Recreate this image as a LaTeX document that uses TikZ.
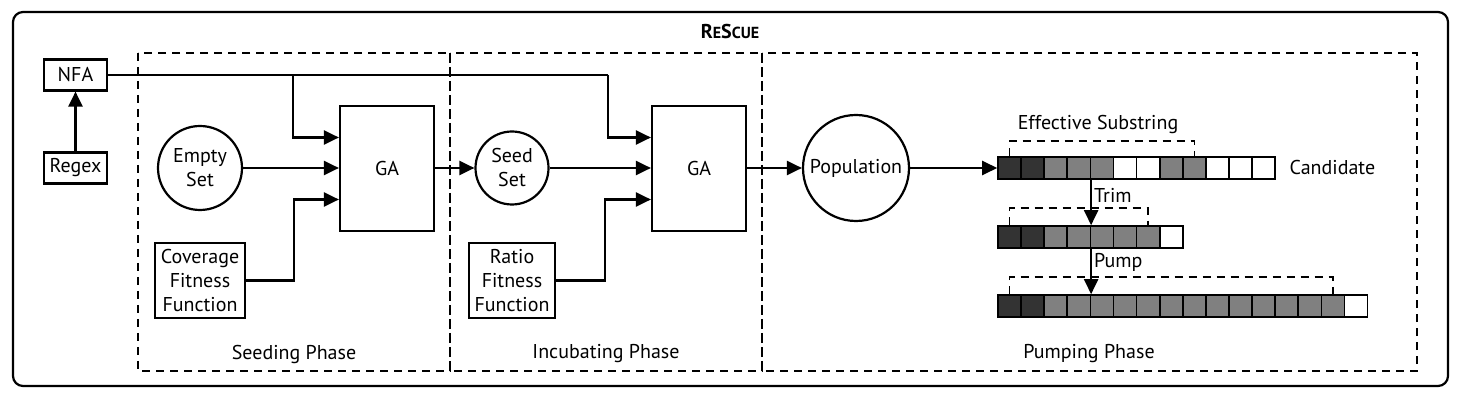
\documentclass[tikz,border=0pt]{standalone}
\usepackage{fontspec}
\setmainfont{PT Sans}
\usepackage{tikz}
\usetikzlibrary{positioning}
\usetikzlibrary{arrows.meta}
\usepackage{xcolor}

\colorlet{celldark}{black!80}
\colorlet{cellgray}{black!50}
\newcommand{\toolname}{\textbf{R{\footnotesize E}S{\footnotesize CUE}}}

\begin{document}
\begin{tikzpicture}[x=0.5pt,y=-0.5pt,line width=1.1pt,>={Triangle[length=7.5pt,width=7pt]},
    every node/.style = {font=\fontsize{10}{12}\selectfont},
    box/.style = {draw, rectangle, align=center, inner sep=2pt},
    main/.style = {draw, circle, align=center, inner sep=0pt},
    phase/.style = {dashed, dash pattern=on 4pt off 3pt},
    brace/.style = {dashed, dash pattern=on 4pt off 3pt, line width=0.8pt},
    cell/.style = {draw, minimum width=11.5pt, minimum height=11pt, inner sep=0pt, line width=0.8pt}]
        \useasboundingbox (0,0) rectangle (1460,400);
        \draw[rounded corners=5pt] (13,12) rectangle (1448,386);
        \node (title) at (730,32) {\toolname};
        % phases
        \draw[phase] (138,53) rectangle (450,371);
        \draw[phase] (450,53) rectangle (762,371);
        \draw[phase] (762,53) rectangle (1417,371);
        \node (seedlbl) at (294,354) {Seeding Phase};
        \node (inclbl) at (606,354) {Incubating Phase};
        \node (pumplbl) at (1089,354) {Pumping Phase};
        % inputs
        \node[box, minimum width=31.5pt, minimum height=15.5pt] (nfa) at (75.5,75) {NFA};
        \node[box, minimum width=31.5pt, minimum height=15.5pt] (regex) at (75.5,168) {Regex};
        \node[main, minimum size=42pt] (empty) at (200,168) {Empty\\Set};
        \node[box, minimum width=45pt, minimum height=37.5pt] (cov) at (200,280.5) {Coverage\\Fitness\\Function};
        \node[box, minimum width=47pt, minimum height=62.5pt] (ga1) at (387,168.5) {GA};
        \node[main, minimum size=36.5pt] (seed) at (512,168) {Seed\\Set};
        \node[box, minimum width=43pt, minimum height=37.5pt] (ratio) at (512,280.5) {Ratio\\Fitness\\Function};
        \node[box, minimum width=47pt, minimum height=62.5pt] (ga2) at (699,168.5) {GA};
        \node[main, minimum size=53pt] (pop) at (856,168) {Population};
        \coordinate (j1) at (293,75);
        \coordinate (j2) at (608,75);
        % candidate strings
        \foreach \c [count=\i] in {celldark,celldark,cellgray,cellgray,cellgray,white,white,cellgray,cellgray,white,white,white}
            \node[cell, fill=\c] (cand-\i) at ({1009.5+23.1*(\i-1)},168) {};
        \foreach \c [count=\i] in {celldark,celldark,cellgray,cellgray,cellgray,cellgray,cellgray,white}
            \node[cell, fill=\c] (trim-\i) at ({1009.5+23.1*(\i-1)},237) {};
        \foreach \c [count=\i] in {celldark,celldark,cellgray,cellgray,cellgray,cellgray,cellgray,cellgray,cellgray,cellgray,cellgray,cellgray,cellgray,cellgray,cellgray,white}
            \node[cell, fill=\c] (pump-\i) at ({1009.5+23.1*(\i-1)},306) {};
        \node[right=3pt of cand-12] (candlbl) {Candidate};
        \node (efflbl) at (1098,125) {Effective Substring};
        \draw[brace] (cand-1.north) -- ++(0,-15) -| (cand-9.north);
        \draw[brace] (trim-1.north) -- ++(0,-17) -| (trim-7.north);
        \draw[brace] (pump-1.north) -- ++(0,-17) -| (pump-15.north);
        % connectors
        \draw[->] (regex) -- (nfa);
        \draw (nfa.east) -- (j2);
        \draw[->] (j1) |- ([yshift=15.5pt]ga1.west);
        \draw[->] (j2) |- ([yshift=15.5pt]ga2.west);
        \draw[->] (empty) -- (empty -| ga1.west);
        \draw[->] (cov.east) -- ++(48,0) |- ([yshift=-15.5pt]ga1.west);
        \draw[->] (ga1.east |- seed) -- (seed);
        \draw[->] (seed) -- (seed -| ga2.west);
        \draw[->] (ratio.east) -- ++(49,0) |- ([yshift=-15.5pt]ga2.west);
        \draw[->] (ga2.east |- pop) -- (pop);
        \draw[->] (pop) -- (cand-1.west);
        \draw[->] (cand-4.south east) -- node[pos=0.35, anchor=west, inner sep=1pt] {Trim} (trim-4.north east);
        \draw[->] (trim-4.south east) -- node[pos=0.3, anchor=west, inner sep=1pt] {Pump} (pump-4.north east);
\end{tikzpicture}
\end{document}
